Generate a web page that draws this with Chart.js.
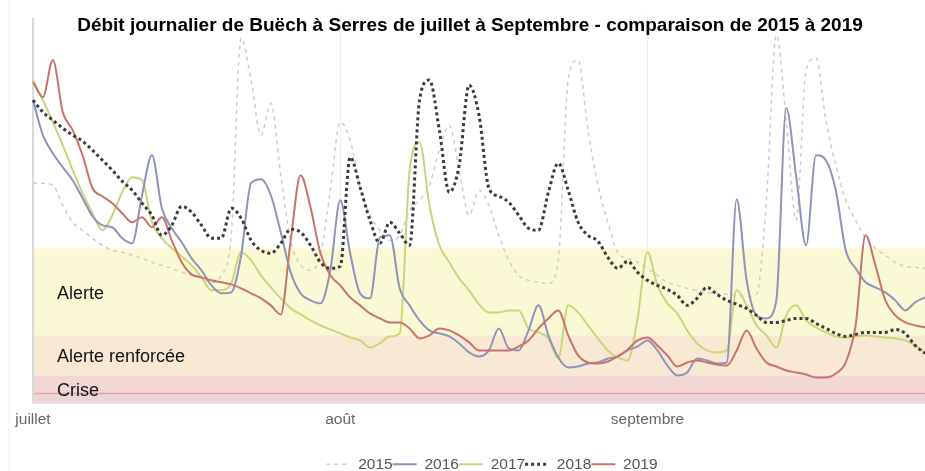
<!DOCTYPE html>
<html><head><meta charset="utf-8">
<script src="https://cdn.jsdelivr.net/npm/chart.js@4.4.1/dist/chart.umd.min.js"></script>
<style>
html,body{margin:0;padding:0;background:#fff;overflow:hidden;width:925px;height:471px}
#wrap{position:absolute;left:0;top:0;width:1010px;height:482px}
</style>
</head><body><div id="wrap"><canvas id="c" width="1010" height="482"></canvas></div>
<script>
const title = 'Débit journalier de Buëch à Serres de juillet à Septembre - comparaison de 2015 à 2019';
const monthNums = ['07','08','09'];
const monthNames = ['juillet','août','septembre'];
const monthLengths = [31,31,29];
const categories = [];
monthNums.forEach((m, k) => { for (let d = 1; d <= monthLengths[k]; d++) categories.push(String(d).padStart(2,'0') + '/' + m); });

const years = ['2015','2016','2017','2018','2019'];
const s2015 = [22.0,22.0,21.8,19.8,18.1,17.3,16.5,15.8,15.3,15.1,
  14.8,14.5,14.1,13.8,13.5,13.1,12.8,12.5,12.1,12.8,
  16.8,36.5,32.3,26.8,30.0,22.8,16.3,13.8,13.3,14.8,
  21.3,28.1,26.3,21.6,18.8,17.3,16.3,16.8,19.3,20.3,
  21.8,25.3,27.8,23.3,18.8,21.3,19.8,16.8,14.3,12.8,
  12.3,12.1,12.0,14.3,32.3,34.3,27.3,21.8,18.1,15.1,
  14.5,14.1,13.5,12.8,12.1,11.8,11.5,11.3,11.1,11.0,
  10.9,10.8,10.7,10.9,20.3,36.8,28.3,18.3,33.3,34.5,
  28.3,23.8,20.3,18.3,16.5,15.5,14.8,14.1,13.7,13.6,
  13.5];
const s2016 = [30.3,26.8,25.0,23.6,22.3,20.5,18.7,17.8,17.6,16.5,
  16.0,20.8,24.8,19.5,17.5,16.1,14.5,13.3,11.8,11.0,
  11.1,14.8,22.0,22.4,20.8,17.1,13.1,11.0,10.3,10.0,
  13.3,20.3,15.0,11.0,10.5,16.6,16.8,11.5,9.8,8.3,
  7.3,7.0,6.7,6.0,5.1,4.7,5.3,7.5,5.5,5.3,
  7.3,9.8,6.8,4.6,3.6,3.7,4.0,4.1,4.5,4.7,
  5.3,5.7,6.3,5.3,3.8,2.8,3.1,4.5,4.3,4.0,
  4.1,20.4,12.3,8.8,8.5,10.3,29.5,22.7,15.8,24.8,
  24.3,21.3,15.3,13.5,12.1,11.6,11.1,10.3,9.3,10.1,
  10.6];
const s2017 = [32.3,30.3,28.1,25.8,23.3,21.0,19.0,17.3,18.8,21.1,
  22.6,22.3,18.1,16.5,15.5,14.7,13.8,12.6,11.3,11.3,
  12.0,15.1,14.3,12.8,11.6,10.5,9.5,8.9,8.3,7.8,
  7.4,7.0,6.6,6.3,5.6,6.0,6.7,7.0,23.3,26.1,
  19.8,15.8,14.1,12.5,11.3,9.9,9.1,9.1,9.3,9.3,
  7.5,7.1,6.5,4.5,9.8,9.1,7.8,6.5,5.3,4.6,
  4.3,8.5,15.1,11.8,10.0,9.0,7.3,6.0,5.3,5.1,
  5.3,11.3,9.8,7.8,6.8,5.6,8.8,9.8,8.3,7.6,
  7.1,6.7,6.6,6.7,6.8,6.7,6.6,6.5,6.3,5.8,
  5.1];
const s2018 = [30.3,29.1,28.3,27.5,26.8,26.2,25.3,24.3,23.3,22.2,
  21.3,20.0,18.8,16.8,17.8,19.7,19.1,17.8,16.5,16.5,
  19.5,18.5,16.3,15.3,15.0,16.0,17.4,17.1,15.8,14.1,
  13.5,13.7,24.6,21.6,18.3,16.0,18.1,17.0,15.8,30.3,
  32.3,27.3,21.1,23.8,31.8,28.8,21.5,20.7,20.1,18.8,
  17.5,17.3,21.1,24.0,21.3,18.1,16.8,16.2,14.6,13.5,
  14.2,13.1,12.3,11.8,11.4,10.8,9.8,10.5,11.6,10.9,
  10.3,9.9,9.5,8.8,8.1,8.1,8.3,8.5,8.5,8.0,
  7.5,7.0,6.7,6.9,7.1,7.1,7.1,7.4,7.0,5.8,
  5.0];
const s2019 = [32.1,30.6,34.3,29.1,27.3,24.8,21.5,20.7,20.0,19.0,
  18.1,18.6,17.6,18.6,16.3,14.1,12.9,12.6,12.3,12.1,
  11.9,11.5,11.0,10.5,9.8,8.9,16.3,22.8,19.6,15.0,
  12.8,11.8,10.6,9.8,9.0,8.5,8.1,8.1,7.5,6.5,
  6.8,7.5,7.3,6.8,6.1,5.3,5.3,5.3,5.3,5.7,
  6.3,7.5,8.5,9.3,6.8,4.8,4.1,4.0,4.2,4.7,
  5.4,6.3,6.6,5.8,4.8,3.7,4.1,4.3,4.1,3.9,
  3.8,5.3,7.3,5.5,4.1,3.7,3.3,3.1,2.9,2.6,
  2.6,3.0,4.1,7.8,16.8,13.8,10.3,8.8,8.1,7.8,
  7.6];

const bandNames = ['Alerte','Alerte renforcée','Crise'];
const bandTops = [15.5, 6.8, 2.8];
const bandBottoms = [6.8, 2.8, 0];
const criseLine = 1.0;
const yMax = 38.8;

const bandColors = ['#fbf8d4','#f9e8d2','#f2d7d4'];
const bandPlugin = {
  id: 'bands',
  beforeDatasetsDraw(chart) {
    const {ctx, chartArea: a, scales: {y}} = chart;
    ctx.save();
    bandNames.forEach((n, i) => {
      const t = y.getPixelForValue(bandTops[i]);
      const b = y.getPixelForValue(bandBottoms[i]);
      ctx.fillStyle = bandColors[i];
      ctx.fillRect(a.left, t, a.right - a.left, b - t);
    });
    const ly = y.getPixelForValue(criseLine);
    ctx.fillStyle = '#ecd6da';
    ctx.fillRect(a.left, ly, a.right - a.left, a.bottom - ly);
    ctx.strokeStyle = '#e3a2a6';
    ctx.lineWidth = 1.5;
    ctx.beginPath(); ctx.moveTo(a.left, ly); ctx.lineTo(a.right, ly); ctx.stroke();
    ctx.strokeStyle = '#d9d9d9';
    ctx.lineWidth = 2;
    ctx.beginPath(); ctx.moveTo(a.left, a.top + 3); ctx.lineTo(a.left, a.bottom); ctx.stroke();
    ctx.strokeStyle = '#eeeeee';
    ctx.lineWidth = 1;
    ctx.beginPath(); ctx.moveTo(9, 0); ctx.lineTo(9, 471); ctx.stroke();
    ctx.restore();
  },
  afterDraw(chart) {
    const {ctx, chartArea: a, scales: {y}} = chart;
    ctx.save();
    ctx.fillStyle = '#111';
    ctx.font = '18px "Liberation Sans", Arial, sans-serif';
    ctx.textBaseline = 'middle';
    ctx.textAlign = 'left';
    bandNames.forEach((n, i) => {
      const t = y.getPixelForValue(bandTops[i]);
      const b = y.getPixelForValue(bandBottoms[i]);
      ctx.fillText(n, a.left + 24, (t + b) / 2 + 2);
    });
    ctx.fillStyle = '#000';
    ctx.font = 'bold 19px "Liberation Sans", Arial, sans-serif';
    ctx.textAlign = 'center';
    ctx.fillText(title, 470, 26);
    ctx.restore();
  }
};

const styles = {
  '2015': {c:'#cdcdcd', w:1.5, d:[4,4], o:4},
  '2016': {c:'#8e93bb', w:2, d:[], o:2},
  '2017': {c:'#c9d57a', w:2, d:[], o:3},
  '2018': {c:'#3b3b3b', w:3, d:[3,3], o:0},
  '2019': {c:'#c8736c', w:2, d:[], o:1}
};
const seriesData = [s2015, s2016, s2017, s2018, s2019];
const labelFont = {family: '"Liberation Sans", Arial, sans-serif', size: 15.5};

new Chart(document.getElementById('c'), {
  type: 'line',
  data: {
    labels: categories,
    datasets: years.map((yr, i) => ({
      label: yr,
      data: seriesData[i],
      borderColor: styles[yr].c,
      backgroundColor: styles[yr].c,
      borderWidth: styles[yr].w,
      borderDash: styles[yr].d,
      order: styles[yr].o,
      pointRadius: 0,
      cubicInterpolationMode: 'monotone',
      fill: false
    }))
  },
  options: {
    responsive: false,
    animation: false,
    layout: {padding: {top: 15, left: 33, right: 59, bottom: 0}},
    plugins: {
      title: {display: false},
      tooltip: {enabled: false},
      legend: {
        position: 'bottom',
        labels: {
          usePointStyle: true,
          pointStyle: 'line',
          pointStyleWidth: 24,
          padding: 0,
          color: '#555',
          font: labelFont,
          generateLabels: (chart) => {
            const items = Chart.defaults.plugins.legend.labels.generateLabels(chart);
            items.forEach(it => {
              const ds = chart.data.datasets[it.datasetIndex];
              it.lineDash = ds.borderDash;
              it.lineWidth = ds.borderWidth;
              it.strokeStyle = ds.borderColor;
              it.pointStyle = 'line';
            });
            return items.sort((a, b) => a.datasetIndex - b.datasetIndex);
          }
        }
      }
    },
    scales: {
      x: {
        grid: {
          drawTicks: false,
          color: (ctx) => (ctx.tick && categories[ctx.index] && categories[ctx.index].startsWith('01/') && ctx.index > 0) ? '#efefef' : 'rgba(0,0,0,0)'
        },
        border: {display: false},
        ticks: {
          autoSkip: false,
          maxRotation: 0,
          padding: 7,
          color: '#666',
          font: labelFont,
          callback: (v, i) => categories[i].startsWith('01/') ? monthNames[monthNums.indexOf(categories[i].slice(3))] : ''
        },
        afterFit: (s) => { s.height = 53; }
      },
      y: {display: false, min: 0, max: yMax},
      yRight: {
        position: 'right', display: true, min: 0, max: yMax,
        grid: {display: false, drawTicks: false}, border: {display: false},
        ticks: {display: false},
        afterFit: (s) => { s.width = 26; }
      }
    }
  },
  plugins: [bandPlugin]
});
</script>
</body></html>
